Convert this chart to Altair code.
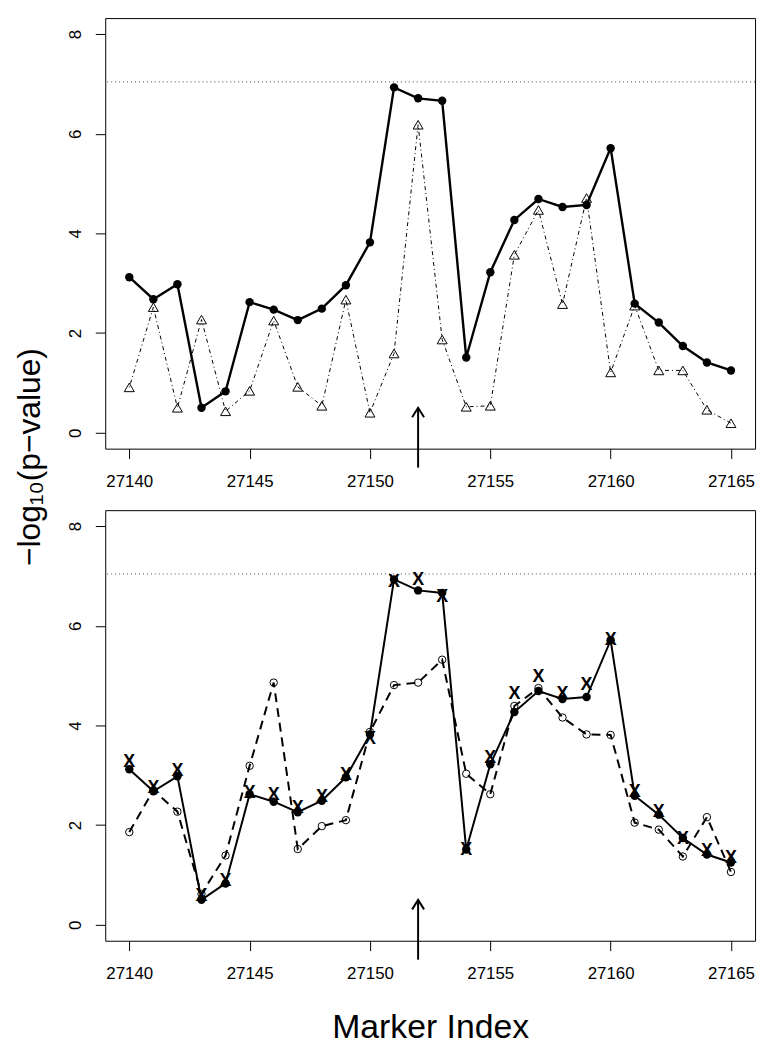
import altair as alt
import pandas as pd

# ---- data ----
marker_index = [27140, 27141, 27142, 27143, 27144, 27145, 27146, 27147, 27148,
                27149, 27150, 27151, 27152, 27153, 27154, 27155, 27156, 27157,
                27158, 27159, 27160, 27161, 27162, 27163, 27164, 27165]

# top panel
top_solid = [3.12, 2.68, 2.98, 0.50, 0.83, 2.62, 2.47, 2.26, 2.49, 2.96, 3.82,
             6.93, 6.71, 6.66, 1.51, 3.22, 4.27, 4.69, 4.53, 4.57, 5.71, 2.59,
             2.21, 1.74, 1.41, 1.25]
top_triangle = [0.91, 2.52, 0.50, 2.27, 0.43, 0.84, 2.25, 0.92, 0.54, 2.67, 0.40,
                1.59, 6.18, 1.87, 0.52, 0.54, 3.57, 4.47, 2.58, 4.71, 1.21, 2.55,
                1.25, 1.25, 0.46, 0.19]

# bottom panel
bottom_solid = [3.12, 2.68, 2.98, 0.50, 0.83, 2.62, 2.47, 2.26, 2.49, 2.96, 3.82,
                6.93, 6.71, 6.66, 1.51, 3.22, 4.27, 4.69, 4.53, 4.57, 5.71, 2.59,
                2.21, 1.74, 1.41, 1.25]
bottom_cross = [3.27, 2.74, 3.08, 0.58, 0.88, 2.64, 2.60, 2.35, 2.57, 3.00, 3.73,
                6.88, 6.91, 6.58, 1.51, 3.35, 4.63, 4.97, 4.63, 4.81, 5.72, 2.67,
                2.26, 1.73, 1.48, 1.33]
bottom_open = [1.86, 2.70, 2.27, 0.62, 1.39, 3.19, 4.86, 1.52, 1.98, 2.10, 3.87,
               4.81, 4.86, 5.32, 3.03, 2.62, 4.39, 4.75, 4.16, 3.82, 3.81, 2.05,
               1.91, 1.37, 2.16, 1.06]

threshold = [7.04]
arrow_x = [27152]
arrow_y_start = [-0.70]
arrow_y_end = [0.50]

x_ticks = [27140, 27145, 27150, 27155, 27160, 27165]
y_ticks = [0, 2, 4, 6, 8]
x_domain = [27139, 27166]
y_domain = [-0.32, 8.32]

y_title = "\u2212log\u2081\u2080(p\u2212value)"
x_title = "Marker Index"

# ---- tables ----
df_top = pd.DataFrame({"marker": marker_index, "solid": top_solid, "tri": top_triangle})
df_bot = pd.DataFrame({"marker": marker_index, "solid": bottom_solid,
                       "cross": bottom_cross, "open": bottom_open})
df_thr = pd.DataFrame({"thr": threshold})
df_arrow = pd.DataFrame({"ax": arrow_x, "ay0": arrow_y_start, "ay1": arrow_y_end})

W, H = 655, 434
FONT = "Liberation Sans"

xscale = alt.Scale(domain=x_domain, nice=False, zero=False)
yscale = alt.Scale(domain=y_domain, nice=False, zero=False)


def x_axis(bottom):
    kw = dict(values=x_ticks, format="d", domain=False, grid=False, tickSize=10,
              tickColor="black", tickWidth=1, labelFont=FONT, labelFontSize=17,
              labelColor="black", labelPadding=15, labelFlush=False,
              labelOverlap=False)
    if bottom:
        kw.update(title=x_title, titleFont=FONT, titleFontSize=34,
                  titleFontWeight="normal", titleColor="black",
                  titleBaseline="middle", titleY=88)
    else:
        kw.update(title=None)
    return alt.Axis(**kw)


def y_axis(top):
    kw = dict(values=y_ticks, format="d", domain=False, grid=False, tickSize=10,
              tickColor="black", tickWidth=1, labelFont=FONT, labelFontSize=17,
              labelColor="black", labelPadding=20, labelAngle=270,
              labelAlign="center", labelBaseline="middle", labelOverlap=False)
    if top:
        kw.update(title=y_title, titleFont=FONT, titleFontSize=32,
                  titleFontWeight="normal", titleColor="black", titleAngle=270,
                  titleAlign="center", titleBaseline="middle",
                  titleX=-76, titleY=442)
    else:
        kw.update(title=None)
    return alt.Axis(**kw)


def X(field, bottom):
    return alt.X(f"{field}:Q", scale=xscale, axis=x_axis(bottom))


def Y(field, top):
    return alt.Y(f"{field}:Q", scale=yscale, axis=y_axis(top))


def panel(df, series, top):
    layers = []
    for field, kind in series:
        base = alt.Chart(df)
        if kind == "tri":
            layers.append(base.mark_line(color="black", strokeWidth=1,
                                         strokeDash=[1, 3, 4, 3])
                          .encode(x=X("marker", not top), y=Y(field, top)))
            layers.append(base.mark_point(shape="triangle-up", filled=False,
                                          size=100, color="black", strokeWidth=1,
                                          opacity=1)
                          .encode(x=X("marker", not top), y=Y(field, top)))
        elif kind == "open":
            layers.append(base.mark_line(color="black", strokeWidth=2,
                                         strokeDash=[9, 6])
                          .encode(x=X("marker", not top), y=Y(field, top)))
            layers.append(base.mark_point(shape="circle", filled=False,
                                          size=56, color="black", strokeWidth=1,
                                          opacity=1)
                          .encode(x=X("marker", not top), y=Y(field, top)))
        elif kind == "solid":
            layers.append(base.mark_line(color="black",
                                         strokeWidth=2.4 if top else 2)
                          .encode(x=X("marker", not top), y=Y(field, top)))
            layers.append(base.mark_point(shape="circle", filled=True,
                                          size=72, color="black", opacity=1)
                          .encode(x=X("marker", not top), y=Y(field, top)))
        elif kind == "cross":
            layers.append(base.mark_text(text="X", font=FONT, fontSize=18,
                                         fontWeight="bold", color="black",
                                         align="center", baseline="middle")
                          .encode(x=X("marker", not top), y=Y(field, top)))
    # threshold dotted line
    layers.append(alt.Chart(df_thr).mark_rule(color="#444", strokeDash=[1, 3],
                                              strokeWidth=1)
                  .encode(y=Y("thr", top)))
    # arrow
    arr = alt.Chart(df_arrow)
    layers.append(arr.mark_rule(color="black", strokeWidth=2, clip=False)
                  .encode(x=X("ax", not top), y=Y("ay0", top), y2="ay1:Q"))
    layers.append(arr.mark_point(shape="M-1,1.6L0,0L1,1.6", filled=False,
                                 size=144, color="black", strokeWidth=2,
                                 opacity=1, clip=False)
                  .encode(x=X("ax", not top), y=Y("ay1", top)))
    return alt.layer(*layers).properties(width=W, height=H)


top_chart = panel(df_top, [("tri", "tri"), ("solid", "solid")], True)
bottom_chart = panel(df_bot, [("open", "open"), ("solid", "solid"),
                              ("cross", "cross")], False)

chart = (alt.vconcat(top_chart, bottom_chart, spacing=62)
         .properties(bounds="flush", background="white")
         .configure_view(stroke="black", strokeWidth=1))

chart.save("out.html", embed_options={"renderer": "svg", "actions": False})
